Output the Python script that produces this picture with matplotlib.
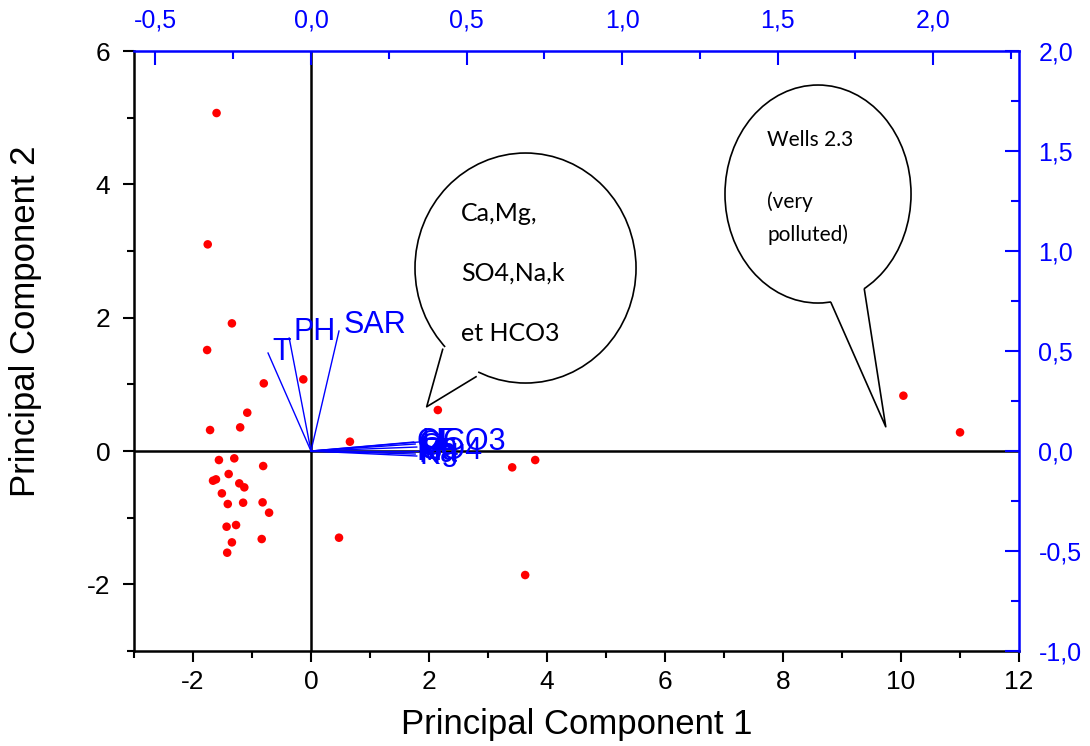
import matplotlib.pyplot as plt
from matplotlib.patches import Ellipse, Polygon
from matplotlib.ticker import MultipleLocator

plt.rcParams['font.family'] = ['Liberation Sans', 'DejaVu Sans']
plt.rcParams['axes.unicode_minus'] = False

# scores (PC1, PC2) of the wells
pc1 = [-1.60, -1.75, -1.34, -1.76, -0.80, -0.13, -1.08, -1.20, -1.71, 0.66,
       -1.56, -1.30, -0.81, -1.395, -1.66, -1.61, -1.215, -1.13, -1.51, -1.41,
       -1.15, -0.82, -0.71, -1.43, -1.27, -1.34, -0.835, -1.42, 0.475,
       2.15, 3.41, 3.80, 3.63, 10.04, 11.0]
pc2 = [5.07, 3.10, 1.915, 1.515, 1.015, 1.075, 0.575, 0.355, 0.315, 0.14,
       -0.135, -0.11, -0.225, -0.345, -0.445, -0.425, -0.485, -0.545, -0.635, -0.795,
       -0.775, -0.77, -0.925, -1.135, -1.11, -1.37, -1.32, -1.525, -1.30,
       0.615, -0.245, -0.135, -1.86, 0.83, 0.28]

# loadings of the variables (top / right axes)
var_names = ["T", "PH", "SAR", "CE", "Cl", "Ca", "HCO3", "Mg", "Na", "K", "SO4"]
load1 = [-0.138, -0.07, 0.09, 0.33, 0.335, 0.34, 0.345, 0.33, 0.335, 0.34, 0.345]
load2 = [0.49, 0.565, 0.60, 0.045, 0.035, 0.02, 0.045, -0.005, -0.015, -0.025, 0.0]

top_ticks = [-0.5, 0.0, 0.5, 1.0, 1.5, 2.0]
top_labels = ["-0,5", "0,0", "0,5", "1,0", "1,5", "2,0"]
right_ticks = [-1.0, -0.5, 0.0, 0.5, 1.0, 1.5, 2.0]
right_labels = ["-1,0", "-0,5", "0,0", "0,5", "1,0", "1,5", "2,0"]

blue = (0, 0, 1)

fig = plt.figure(figsize=(10.9, 7.46), dpi=100)
ax = fig.add_axes([0.1229, 0.1273, 0.812, 0.8043])
ax.set_xlim(-3, 12)
ax.set_ylim(-3, 6)
ax.xaxis.set_major_locator(MultipleLocator(2))
ax.xaxis.set_minor_locator(MultipleLocator(1))
ax.yaxis.set_major_locator(MultipleLocator(2))
ax.yaxis.set_minor_locator(MultipleLocator(1))
ax.tick_params(which='both', direction='out', width=1.5, labelsize=19, colors='black')
ax.tick_params(which='major', length=8)
ax.tick_params(which='minor', length=5)
ax.tick_params(axis='y', pad=9)
ax.tick_params(axis='x', pad=6)
for s in ['left', 'bottom']:
    ax.spines[s].set_linewidth(1.8)
for s in ['top', 'right']:
    ax.spines[s].set_visible(False)
ax.set_xlabel("Principal Component 1", fontsize=25, labelpad=10)
ax.set_ylabel("Principal Component 2", fontsize=25)
ax.yaxis.set_label_coords(-0.104, 0.55)

ax.axhline(0, color='black', lw=1.8, zorder=1)
ax.axvline(0, color='black', lw=1.8, zorder=1)

ax.scatter(pc1, pc2, s=38, color='red', edgecolors='none', zorder=3)

# secondary axes for loadings
ax2 = fig.add_axes(ax.get_position(), facecolor='none')
ax2.set_xlim(-0.569, 2.276)
ax2.set_ylim(-1.0, 2.0)
ax2.xaxis.tick_top()
ax2.yaxis.tick_right()
ax2.set_xticks(top_ticks)
ax2.set_xticklabels(top_labels)
ax2.set_yticks(right_ticks)
ax2.set_yticklabels(right_labels)
ax2.xaxis.set_minor_locator(MultipleLocator(0.25))
ax2.yaxis.set_minor_locator(MultipleLocator(0.25))
ax2.tick_params(which='both', direction='in', width=1.5, colors=blue, labelsize=18)
ax2.tick_params(which='major', length=10)
ax2.tick_params(which='minor', length=6)
ax2.tick_params(axis='x', pad=13)
ax2.tick_params(axis='y', pad=14)
for s in ['left', 'bottom']:
    ax2.spines[s].set_visible(False)
for s in ['top', 'right']:
    ax2.spines[s].set_color(blue)
    ax2.spines[s].set_linewidth(1.8)

for name, lx, ly in zip(var_names, load1, load2):
    ax2.plot([0, lx], [0, ly], color=blue, lw=1)
    if name == "T":
        ax2.text(lx + 0.015, ly - 0.07, name, color=blue, fontsize=22, ha='left', va='bottom')
    elif name in ("PH", "SAR"):
        ax2.text(lx + 0.015, ly - 0.045, name, color=blue, fontsize=22, ha='left', va='bottom')
    else:
        ax2.text(lx + 0.01, ly, name, color=blue, fontsize=22, ha='left', va='center')

# speech bubbles
def bubble(cx, cy, w, h, tail, lines, x_text, y_text, fs):
    ax.add_patch(Ellipse((cx, cy), w, h, facecolor='white', edgecolor='black', lw=1.2, zorder=5))
    ax.add_patch(Polygon([tail[0], tail[1], tail[2], (cx, cy)], closed=True,
                         facecolor='white', edgecolor='none', zorder=6))
    ax.plot([tail[0][0], tail[1][0], tail[2][0]], [tail[0][1], tail[1][1], tail[2][1]],
            color='black', lw=1.2, zorder=7)
    for t, yy in zip(lines, y_text):
        ax.text(x_text, yy, t, fontsize=fs, family=['Lato', 'DejaVu Sans'],
                ha='left', va='center', zorder=8)

bubble(3.636, 2.745, 3.746, 3.45,
       [(2.232, 1.525), (1.961, 0.664), (2.797, 1.114)],
       ["Ca,Mg,", "SO4,Na,k", "et HCO3"], 2.54, [3.57, 2.67, 1.77], 18)
bubble(8.593, 3.855, 3.153, 3.27,
       [(8.814, 2.224), (9.741, 0.364), (9.378, 2.425)],
       ["Wells 2.3", "(very", "polluted)"], 7.73, [4.665, 3.735, 3.24], 15)

fig.savefig("out.png", dpi=100)
